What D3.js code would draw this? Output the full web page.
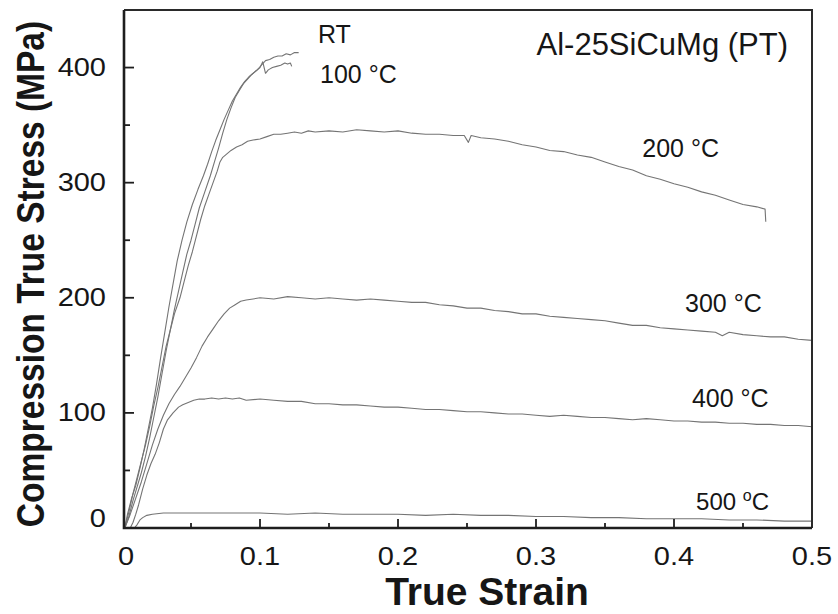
<!DOCTYPE html>
<html>
<head>
<meta charset="utf-8">
<script src="https://cdn.jsdelivr.net/npm/d3@7"></script>
<style>
  html, body { margin: 0; padding: 0; background: #fff; }
  svg { display: block; }
  text { font-family: Arial, "Liberation Sans", Helvetica, sans-serif; fill: #161616; }
</style>
</head>
<body>
<svg id="chart" width="838" height="614"></svg>
<script>
// ---------------- data (true strain, true stress MPa) ----------------
const seriesNames = ["RT", "100 °C", "200 °C", "300 °C", "400 °C", "500 °C"];

const curveRT = [
  [0.002,0],[0.004,12],[0.007,26],[0.010,37],[0.013,52],[0.016,68],[0.019,86],[0.022,104],
  [0.025,125],[0.028,148],[0.031,170],[0.034,192],[0.037,212],[0.040,232],[0.0435,250],
  [0.047,266],[0.051,281],[0.055,294],[0.059,306],[0.062,316],[0.065,327],[0.068,337],
  [0.071,346],[0.074,355],[0.077,363],[0.080,371],[0.083,377],[0.086,383],[0.089,388],
  [0.092,392],[0.095,395],[0.098,398],[0.101,402],[0.104,406],[0.107,407],[0.110,409],
  [0.113,410],[0.116,410],[0.119,412],[0.122,411],[0.125,413],[0.128,413]
];
const curve100 = [
  [0.002,0],[0.005,10],[0.008,24],[0.011,36],[0.014,48],[0.017,62],[0.020,78],[0.023,96],
  [0.026,114],[0.029,134],[0.032,154],[0.035,172],[0.038,190],[0.041,206],[0.044,222],
  [0.047,238],[0.050,250],[0.053,264],[0.056,278],[0.060,292],[0.064,306],[0.067,318],
  [0.070,330],[0.073,343],[0.076,355],[0.079,365],[0.082,374],[0.085,380],[0.088,386],
  [0.091,390],[0.094,394],[0.097,397],[0.100,400],[0.102,405],[0.104,395],[0.106,398],
  [0.109,400],[0.112,401],[0.115,402],[0.118,404],[0.120,403],[0.122,404],[0.123,401]
];
const curve200 = [
  [0.002,0],[0.005,14],[0.008,30],[0.011,44],[0.014,58],[0.017,72],[0.020,88],[0.023,106],
  [0.026,122],[0.029,140],[0.032,158],[0.035,172],[0.038,186],[0.042,200],[0.045,214],
  [0.048,228],[0.051,240],[0.054,254],[0.057,268],[0.060,280],[0.063,290],[0.066,300],
  [0.069,310],[0.071,318],[0.073,322],[0.076,325],[0.079,328],[0.083,331],[0.087,333],
  [0.091,336],[0.095,337],[0.100,338],[0.105,340],[0.110,342],[0.115,342],[0.120,343],
  [0.125,344],[0.130,343],[0.135,345],[0.140,344],[0.150,345],[0.160,344],[0.170,346],
  [0.180,345],[0.190,344],[0.200,345],[0.210,343],[0.220,342],[0.230,342],[0.240,341],
  [0.248,341],[0.251,335],[0.253,341],[0.260,339],[0.270,338],[0.280,336],[0.290,333],
  [0.300,331],[0.310,328],[0.320,327],[0.330,324],[0.340,322],[0.350,318],[0.360,314],
  [0.370,311],[0.380,306],[0.390,303],[0.400,299],[0.410,296],[0.420,292],[0.430,289],
  [0.440,285],[0.450,281],[0.460,279],[0.466,277],[0.4665,266]
];
const curve300 = [
  [0.002,0],[0.006,12],[0.010,26],[0.014,40],[0.018,56],[0.022,72],[0.026,86],[0.030,98],
  [0.034,108],[0.038,116],[0.042,123],[0.046,131],[0.050,139],[0.054,148],[0.058,158],
  [0.062,166],[0.066,173],[0.070,180],[0.074,186],[0.078,191],[0.082,194],[0.086,197],
  [0.090,198],[0.095,199],[0.100,200],[0.110,199],[0.120,201],[0.130,200],[0.140,199],
  [0.150,200],[0.160,199],[0.170,198],[0.180,199],[0.190,198],[0.200,197],[0.210,196],
  [0.220,196],[0.230,194],[0.240,193],[0.250,191],[0.260,191],[0.270,189],[0.280,188],
  [0.290,186],[0.300,186],[0.310,184],[0.320,183],[0.330,182],[0.340,181],[0.350,180],
  [0.360,178],[0.370,176],[0.380,176],[0.390,174],[0.400,173],[0.410,172],[0.420,171],
  [0.430,170],[0.435,167],[0.440,170],[0.450,168],[0.460,167],[0.470,166],[0.480,166],
  [0.490,164],[0.500,163]
];
const curve400 = [
  [0.006,0],[0.008,5],[0.010,12],[0.012,20],[0.015,34],[0.018,46],[0.021,56],[0.024,64],
  [0.027,74],[0.030,86],[0.033,94],[0.037,100],[0.041,105],[0.044,107],[0.048,109],
  [0.052,111],[0.056,112],[0.060,112],[0.065,113],[0.070,112],[0.075,113],[0.080,112],
  [0.085,113],[0.090,111],[0.100,112],[0.110,111],[0.120,110],[0.130,110],[0.140,108],
  [0.150,108],[0.160,107],[0.170,107],[0.180,106],[0.190,105],[0.200,105],[0.210,104],
  [0.220,103],[0.230,103],[0.240,102],[0.250,101],[0.260,101],[0.270,100],[0.280,99],
  [0.290,99],[0.300,98],[0.310,97],[0.320,98],[0.330,97],[0.340,96],[0.350,96],[0.360,95],
  [0.370,94],[0.380,95],[0.390,94],[0.400,93],[0.410,93],[0.420,92],[0.430,92],[0.440,91],
  [0.450,91],[0.460,90],[0.470,90],[0.480,89],[0.490,89],[0.500,88]
];
const curve500 = [
  [0.009,0],[0.011,3],[0.013,7],[0.015,9],[0.018,11],[0.022,12],[0.030,13],[0.040,13],
  [0.050,13],[0.060,13],[0.080,13],[0.100,13],[0.120,12],[0.140,13],[0.160,12],[0.180,12],
  [0.200,12],[0.220,11],[0.240,12],[0.260,11],[0.280,11],[0.300,10],[0.320,10],[0.340,9],
  [0.360,9],[0.380,8],[0.400,8],[0.420,8],[0.440,7],[0.460,7],[0.480,6],[0.500,6]
];
const curves = [curveRT, curve100, curve200, curve300, curve400, curve500];

const xMajorTicks = [0, 0.1, 0.2, 0.3, 0.4, 0.5];
const xTickLabels = ["0", "0.1", "0.2", "0.3", "0.4", "0.5"];
const xMinorTicks = [0.05, 0.15, 0.25, 0.35, 0.45];
const yMajorTicks = [0, 100, 200, 300, 400];
const yTickLabels = ["0", "100", "200", "300", "400"];
const yMinorTicks = [50, 150, 250, 350];

const xTitle = "True Strain";
const yTitle = "Compression True Stress (MPa)";
const alloyLabel = "Al-25SiCuMg (PT)";

// ---------------- layout ----------------
const svg = d3.select("#chart");
const frame = { left: 124, right: 812, top: 10, bottom: 528 };
const x = d3.scaleLinear().domain([0, 0.5]).range([122, 812]);
const y = d3.scaleLinear().domain([0, 450]).range([528, 10]);

svg.append("rect").attr("width", 838).attr("height", 614).attr("fill", "#fff");

// curves
const line = d3.line().x(d => x(d[0])).y(d => y(d[1])).curve(d3.curveLinear);
svg.append("g").selectAll("path").data(curves).join("path")
  .attr("d", line)
  .attr("fill", "none")
  .attr("stroke", "#747474")
  .attr("stroke-width", 1.1)
  .attr("stroke-linejoin", "round");

// frame
svg.append("path")
  .attr("d", `M${frame.left},${frame.top}H${frame.right}V${frame.bottom}`)
  .attr("fill", "none").attr("stroke", "#2a2a2a").attr("stroke-width", 2);
svg.append("path")
  .attr("d", `M${frame.left},${frame.top}V${frame.bottom}H${frame.right}`)
  .attr("fill", "none").attr("stroke", "#1e1e1e").attr("stroke-width", 2.6);

// ticks (inward)
const tk = svg.append("g").attr("stroke", "#1e1e1e").attr("stroke-width", 1.8);
tk.selectAll(".xmaj").data(xMajorTicks.slice(1, -1)).join("line")
  .attr("x1", d => x(d)).attr("x2", d => x(d))
  .attr("y1", frame.bottom).attr("y2", frame.bottom - 9);
tk.selectAll(".xmin").data(xMinorTicks).join("line")
  .attr("x1", d => x(d)).attr("x2", d => x(d))
  .attr("y1", frame.bottom).attr("y2", frame.bottom - 5);
tk.selectAll(".ymaj").data(yMajorTicks.slice(1)).join("line")
  .attr("x1", frame.left).attr("x2", frame.left + 10)
  .attr("y1", d => y(d)).attr("y2", d => y(d));
tk.selectAll(".ymin").data(yMinorTicks).join("line")
  .attr("x1", frame.left).attr("x2", frame.left + 6)
  .attr("y1", d => y(d)).attr("y2", d => y(d));

// tick labels
svg.append("g").selectAll("text").data(xMajorTicks).join("text")
  .attr("transform", (d, i) => `translate(${x(d) + (i === 0 ? 4 : 0)},565) scale(1,0.86)`)
  .attr("text-anchor", "middle")
  .attr("font-size", 29)
  .text((d, i) => xTickLabels[i]);

svg.append("g").selectAll("text").data(yMajorTicks).join("text")
  .attr("transform", d => `translate(106,${y(d) + 8 - (d === 0 ? 9 : 0)}) scale(1,0.86)`)
  .attr("text-anchor", "end")
  .attr("font-size", 29)
  .text((d, i) => yTickLabels[i]);

// axis titles
svg.append("text")
  .attr("x", 487).attr("y", 605)
  .attr("text-anchor", "middle")
  .attr("font-size", 39).attr("font-weight", "bold")
  .text(xTitle);

svg.append("text")
  .attr("transform", "translate(44,274) rotate(-90) scale(1,1.15)")
  .attr("text-anchor", "middle")
  .attr("font-size", 33.5).attr("font-weight", "bold")
  .text(yTitle);

// alloy label
svg.append("text")
  .attr("x", 788).attr("y", 55)
  .attr("text-anchor", "end")
  .attr("font-size", 31)
  .text(alloyLabel);

// curve labels (anchor at left/baseline, in data coordinates)
const labelAnchors = [
  [0.142, 421], [0.1435, 387], [0.377, 322], [0.408, 188], [0.413, 105], [0.416, 16]
];
const lg = svg.append("g");
seriesNames.forEach((name, i) => {
  const t = lg.append("text")
    .attr("x", x(labelAnchors[i][0]))
    .attr("y", y(labelAnchors[i][1]))
    .attr("font-size", i === 5 ? 24 : 25);
  if (i === 5) {
    const num = name.replace(" °C", "");
    t.append("tspan").text(num + " ");
    t.append("tspan").attr("font-size", 16).attr("dy", -9).text("o");
    t.append("tspan").attr("dy", 9).text("C");
  } else {
    t.text(name);
  }
});
</script>
</body>
</html>
